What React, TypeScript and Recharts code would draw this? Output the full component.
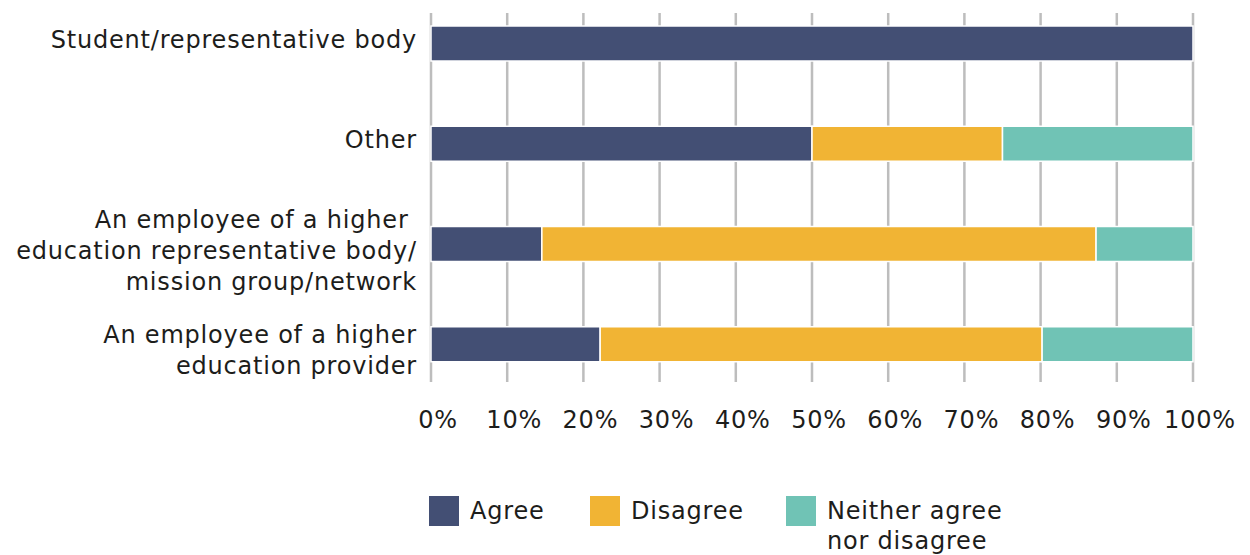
import React from "react";
import { BarChart, Bar, XAxis, YAxis, CartesianGrid } from "recharts";

const categories = [
  "Student/representative body",
  "Other",
  "An employee of a higher education representative body/ mission group/network",
  "An employee of a higher education provider",
];

const categoryLines: string[][] = [
  ["Student/representative body"],
  ["Other"],
  ["An employee of a higher ", "education representative body/", "mission group/network"],
  ["An employee of a higher", "education provider"],
];

const agree = [100, 50, 14.55, 22.2];
const disagree = [0, 25, 72.73, 58.0];
const neither = [0, 25, 12.72, 19.8];

const xTicks = [0, 10, 20, 30, 40, 50, 60, 70, 80, 90, 100];

const seriesKeys = ["agree", "disagree", "neither"];
const seriesNames = ["Agree", "Disagree", "Neither agree nor disagree"];
const legendLines: string[][] = [["Agree"], ["Disagree"], ["Neither agree", "nor disagree"]];
const seriesColors = ["#434F74", "#F1B434", "#70C3B5"];

const data = categories.map((name, i) => ({
  name,
  idx: i,
  agree: agree[i],
  disagree: disagree[i],
  neither: neither[i],
}));

const FONT = "'DejaVu Sans', 'Noto Sans', sans-serif";
const TEXT = "#1d1d1b";
const LS = "0.8px";

const YTick = (props: any) => {
  const { y, payload } = props;
  const i = categories.indexOf(payload.value);
  const lines = categoryLines[i] || [payload.value];
  const n = lines.length;
  const lh = 31;
  const first = y + 5 - ((n - 1) * lh) / 2 + (n > 1 ? 10 : 0);
  return (
    <text
      x={417}
      y={first}
      textAnchor="end"
      fontFamily={FONT}
      fontSize={24}
      fill={TEXT}
      style={{ whiteSpace: "pre", letterSpacing: LS }}
    >
      {lines.map((l, k) => (
        <tspan key={k} x={417} y={first + k * lh}>
          {l}
        </tspan>
      ))}
    </text>
  );
};

const XTick = (props: any) => {
  const { x, y, payload } = props;
  return (
    <text
      x={x + 7}
      y={y + 38}
      textAnchor="middle"
      fontFamily={FONT}
      fontSize={24}
      fill={TEXT}
      style={{ letterSpacing: LS }}
    >
      {`${payload.value}%`}
    </text>
  );
};

const legendWidths = [161, 196, 260];

export default function App() {
  return (
    <div style={{ position: "absolute", left: 0, top: 0, width: 1250, height: 555, background: "#fff" }}>
      <BarChart
        width={1250}
        height={555}
        data={data}
        layout="vertical"
        margin={{ top: 13, right: 57, bottom: 123, left: 0 }}
        barSize={35}
      >
        <CartesianGrid horizontal={false} vertical={true} stroke="#BDBDBD" strokeWidth={2.5} />
        <XAxis
          type="number"
          domain={[0, 100]}
          ticks={xTicks}
          axisLine={false}
          tickLine={false}
          tick={<XTick />}
          height={50}
          interval={0}
        />
        <YAxis
          type="category"
          dataKey="name"
          width={431}
          axisLine={false}
          tickLine={false}
          tick={<YTick />}
          interval={0}
          padding={{ top: -20, bottom: -12 }}
        />
        {seriesKeys.map((k, i) => (
          <Bar
            key={k}
            dataKey={k}
            name={seriesNames[i]}
            stackId="a"
            fill={seriesColors[i]}
            stroke="#ffffff"
            strokeWidth={1.5}
            isAnimationActive={false}
          />
        ))}
      </BarChart>
      <div
        style={{
          position: "absolute",
          left: 429,
          top: 496,
          display: "flex",
          fontFamily: FONT,
          fontSize: 24,
          color: TEXT,
          letterSpacing: LS,
        }}
      >
        {seriesKeys.map((k, i) => (
          <div key={k} style={{ display: "flex", alignItems: "flex-start", width: legendWidths[i] }}>
            <div style={{ width: 30, height: 30, background: seriesColors[i], flexShrink: 0 }} />
            <div style={{ marginLeft: 11, lineHeight: "30px" }}>
              {legendLines[i].map((l, j) => (
                <div key={j} style={{ whiteSpace: "nowrap" }}>
                  {l}
                </div>
              ))}
            </div>
          </div>
        ))}
      </div>
    </div>
  );
}
